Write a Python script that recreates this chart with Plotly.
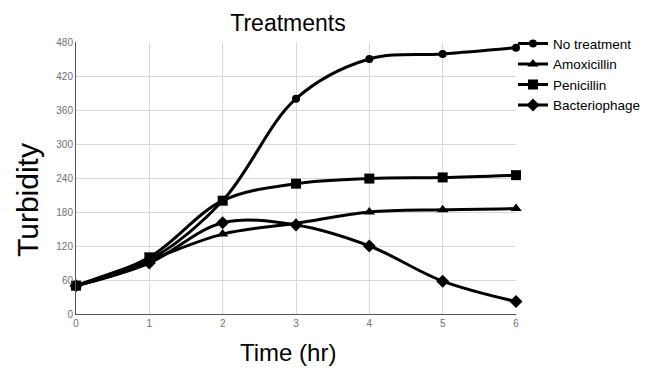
import plotly.graph_objects as go

time_hr = [0, 1, 2, 3, 4, 5, 6]
no_treatment = [50, 95, 200, 380, 450, 459, 470]
amoxicillin = [50, 95, 141, 160, 180, 184, 186]
penicillin = [50, 100, 200, 230, 239, 241, 245]
bacteriophage = [50, 90, 161, 157, 120, 58, 22]

series = [
    ("No treatment", no_treatment, "circle", 8),
    ("Amoxicillin", amoxicillin, "triangle-up", 10),
    ("Penicillin", penicillin, "square", 10),
    ("Bacteriophage", bacteriophage, "diamond", 10),
]

fig = go.Figure()
for name, vals, sym, sz in series:
    fig.add_trace(go.Scatter(
        x=time_hr, y=vals, name=name, mode="lines+markers",
        line=dict(color="black", width=3, shape="spline", smoothing=1),
        marker=dict(symbol=sym, size=sz, color="black"),
        cliponaxis=False,
    ))

fig.update_layout(
    width=650, height=379,
    margin=dict(l=68, r=142, t=34, b=73, autoexpand=False),
    paper_bgcolor="white", plot_bgcolor="white",
    font=dict(family="Liberation Sans, Arial, sans-serif", color="black"),
    title=dict(text="Treatments", x=280 / 650, xanchor="center", y=1 - 15 / 379, yanchor="middle",
               font=dict(size=23, color="black")),
    legend=dict(x=1 - 3 / 440, xanchor="left", y=1.051, yanchor="top",
                font=dict(size=13.5, color="black"), tracegroupgap=0,
                itemwidth=30, bgcolor="rgba(0,0,0,0)"),
    showlegend=True,
    annotations=[
        dict(text="Time (hr)", xref="paper", yref="paper", x=(288 - 76) / 440, y=0,
             xanchor="center", yanchor="middle", yshift=-38, showarrow=False,
             font=dict(size=24, color="black")),
        dict(text="Turbidity", xref="paper", yref="paper", x=0, y=(314 - 200) / 272,
             xanchor="center", yanchor="middle", xshift=-48, textangle=-90, showarrow=False,
             font=dict(size=30, color="black")),
    ],
)
fig.update_xaxes(
    range=[0, 6], dtick=1, showgrid=True, gridcolor="#d9d9d9", gridwidth=1,
    showline=True, linecolor="#555555", linewidth=1, zeroline=False, automargin=False,
    tickfont=dict(size=10, color="#707070"),
)
fig.update_yaxes(
    range=[0, 480], dtick=60, showgrid=True, gridcolor="#d9d9d9", gridwidth=1,
    showline=True, linecolor="#555555", linewidth=1, zeroline=False, automargin=False,
    tickfont=dict(size=10, color="#707070"),
)

fig.write_html("out.html")
